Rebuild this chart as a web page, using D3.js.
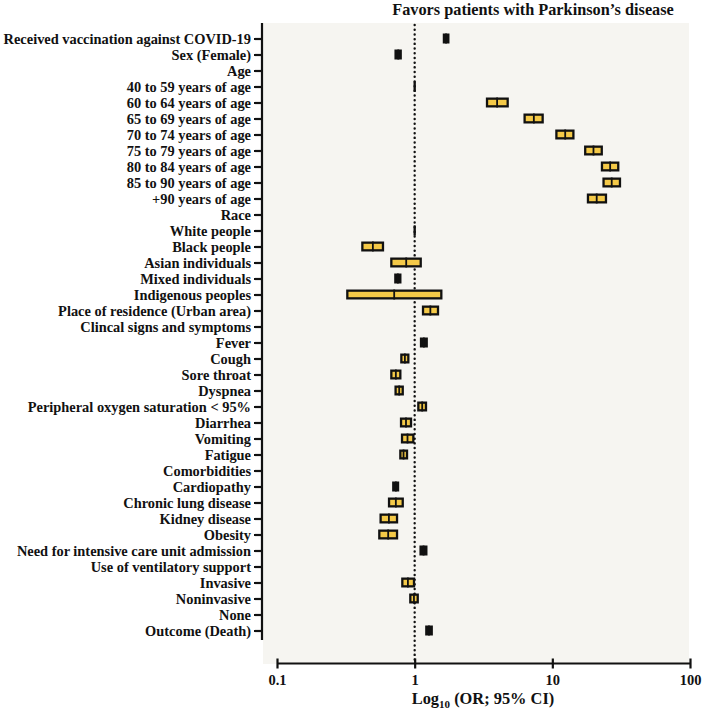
<!DOCTYPE html>
<html>
<head>
<meta charset="utf-8">
<script src="https://cdn.jsdelivr.net/npm/d3@7"></script>
<style>
  body { margin: 0; background: #fff; }
  text { font-family: "Liberation Serif", "Times New Roman", serif; font-weight: bold; fill: #111; }
</style>
</head>
<body>
<div class="forestPlot"></div>
<script>
// rows, top to bottom (headers have no values)
var labels = [
   "Received vaccination against COVID-19", "Sex (Female)", "Age",
   "40 to 59 years of age", "60 to 64 years of age", "65 to 69 years of age",
   "70 to 74 years of age", "75 to 79 years of age", "80 to 84 years of age",
   "85 to 90 years of age", "+90 years of age", "Race", "White people",
   "Black people", "Asian individuals", "Mixed individuals", "Indigenous peoples",
   "Place of residence (Urban area)", "Clincal signs and symptoms", "Fever",
   "Cough", "Sore throat", "Dyspnea", "Peripheral oxygen saturation < 95%",
   "Diarrhea", "Vomiting", "Fatigue", "Comorbidities", "Cardiopathy",
   "Chronic lung disease", "Kidney disease", "Obesity",
   "Need for intensive care unit admission", "Use of ventilatory support",
   "Invasive", "Noninvasive", "None", "Outcome (Death)"
];
var orValues = [1.69, 0.76, null, 1, 3.97, 7.34, 12.4, 19.9, 26.3, 27.0, 21.0, null, 1,
   0.497, 0.868, 0.755, 0.71, 1.30, null, 1.166, 0.849, 0.73, 0.772, 1.134,
   0.865, 0.887, 0.83, null, 0.73, 0.73, 0.65, 0.642, 1.16, null, 0.893, 0.988, null, 1.27];
var ciLow = [1.60, 0.713, null, 1, 3.29, 6.17, 10.5, 17.0, 22.5, 23.1, 17.8, null, 1,
   0.409, 0.664, 0.71, 0.318, 1.128, null, 1.091, 0.785, 0.664, 0.713, 1.043,
   0.781, 0.794, 0.772, null, 0.686, 0.639, 0.555, 0.543, 1.083, null, 0.798, 0.912, null, 1.192];
var ciHigh = [1.79, 0.807, null, 1, 4.83, 8.67, 14.5, 23.3, 30.7, 31.6, 25.0, null, 1,
   0.600, 1.128, 0.802, 1.592, 1.506, null, 1.247, 0.917, 0.802, 0.835, 1.232,
   0.959, 0.997, 0.897, null, 0.772, 0.835, 0.759, 0.759, 1.239, null, 1.008, 1.073, null, 1.356];
var xTicks = [0.1, 1, 10, 100];

var rows = labels.map((d, i) => ({ name: d, or: orValues[i], lo: ciLow[i], hi: ciHigh[i] }));

var svg = d3.select(".forestPlot").append("svg")
   .attr("width", 702)
   .attr("height", 710);

const plot = { left: 263, right: 689, top: 23, bottom: 664 };

let x = d3.scaleLog()
   .domain([0.1, 100])
   .range([277, 690]);

let y = d3.scalePoint()
   .domain(labels)
   .range([38.5, 630.5]);

// panel background
svg.append("rect")
   .attr("x", plot.left)
   .attr("y", plot.top)
   .attr("width", plot.right - plot.left)
   .attr("height", plot.bottom - plot.top)
   .style("fill", "#f6f5f1");

svg.append("text")
   .attr("x", 533)
   .attr("y", 15)
   .style("text-anchor", "middle")
   .style("font-size", "16.3px")
   .text("Favors patients with Parkinson\u2019s disease");

// null line
svg.append("line")
   .attr("x1", x(1)).attr("x2", x(1))
   .attr("y1", plot.top + 2).attr("y2", plot.bottom - 4)
   .style("stroke", "#111")
   .style("stroke-width", 2.4)
   .style("stroke-linecap", "round")
   .style("stroke-dasharray", "0.1,4.6");

// y axis
let yAxis = d3.axisLeft(y).tickSize(8).tickPadding(3);
let gy = svg.append("g")
   .attr("transform", "translate(262,0)")
   .call(yAxis);
gy.select(".domain").attr("d", "M0,23V640");
gy.selectAll("path, line").style("stroke", "#111").style("stroke-width", 2.2);
gy.selectAll("text")
   .style("font-size", "14.4px")
   .style("font-family", "Liberation Serif, serif")
   .style("font-weight", "bold")
   .style("fill", "#111");

// x axis
let xAxis = d3.axisBottom(x)
   .tickValues(xTicks)
   .tickSize(5)
   .tickPadding(6)
   .tickFormat(d => d3.format("~g")(d));
let gx = svg.append("g")
   .attr("transform", "translate(0,663.5)")
   .call(xAxis);
gx.select(".domain").attr("d", "M277,0H690");
gx.selectAll(".tick line").attr("y1", -5).attr("y2", 5);
gx.selectAll("path, line").style("stroke", "#111").style("stroke-width", 2.2);
gx.selectAll("text")
   .style("font-size", "14.5px")
   .style("font-family", "Liberation Serif, serif")
   .style("font-weight", "bold")
   .style("fill", "#111");

let xTitle = svg.append("text")
   .attr("x", 483)
   .attr("y", 704)
   .style("text-anchor", "middle")
   .style("font-size", "16.4px");
xTitle.append("tspan").text("Log");
xTitle.append("tspan").attr("dy", 4).style("font-size", "11px").text("10");
xTitle.append("tspan").attr("dy", -4).text(" (OR; 95% CI)");

// CI boxes
let data = rows.filter(d => d.or != null);
let boxH = 10, border = 2.3;

svg.selectAll("rect.outer")
   .data(data)
   .enter()
   .append("rect")
   .attr("class", "outer")
   .attr("x", d => Math.min(x(d.lo), x(d.or) - 1))
   .attr("width", d => Math.max(x(d.hi) - x(d.lo), 2))
   .attr("y", d => y(d.name) - boxH / 2)
   .attr("height", boxH)
   .style("fill", "#111");

svg.selectAll("rect.inner")
   .data(data.filter(d => x(d.hi) - x(d.lo) > 8.5))
   .enter()
   .append("rect")
   .attr("class", "inner")
   .attr("x", d => x(d.lo) + border)
   .attr("width", d => x(d.hi) - x(d.lo) - 2 * border)
   .attr("y", d => y(d.name) - boxH / 2 + border)
   .attr("height", boxH - 2 * border)
   .style("fill", "#f4c948");

svg.selectAll("line.mid")
   .data(data)
   .enter()
   .append("line")
   .attr("class", "mid")
   .attr("x1", d => x(d.or)).attr("x2", d => x(d.or))
   .attr("y1", d => y(d.name) - boxH / 2)
   .attr("y2", d => y(d.name) + boxH / 2)
   .style("stroke", "#111")
   .style("stroke-width", 1.8);
</script>
</body>
</html>
